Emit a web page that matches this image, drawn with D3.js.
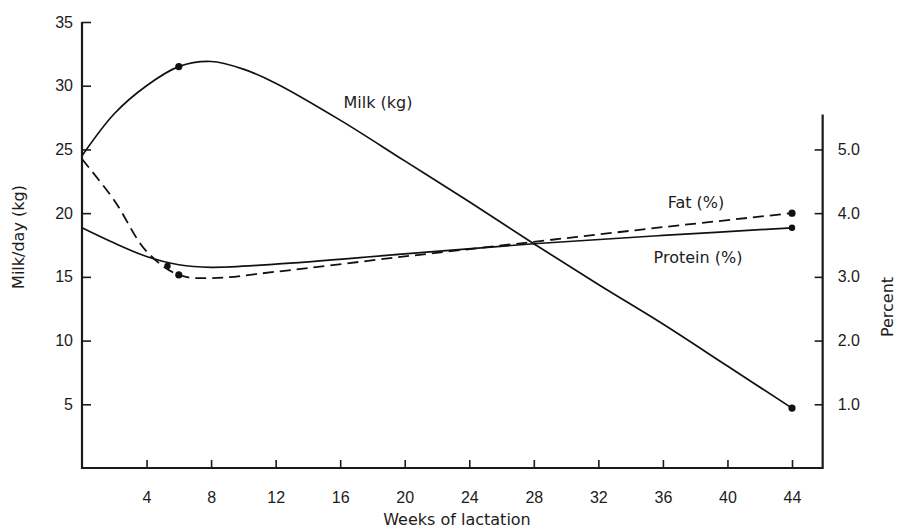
<!DOCTYPE html>
<html>
<head>
<meta charset="utf-8">
<script src="https://d3js.org/d3.v7.min.js"></script>
<style>
body { margin: 0; background: #fff; }
svg { font-family: "DejaVu Sans", "Liberation Sans", sans-serif; }
.axis text { font-size: 16px; fill: #1c1c1c; }
.axis line { stroke: #1c1c1c; stroke-width: 1.6; }
.title { font-size: 16px; fill: #1c1c1c; }
</style>
</head>
<body>
<div id="chart"></div>
<script>
// weeks of lactation and readings
const milkWeeks = [0, 2, 4, 6, 8, 10, 12, 16, 20, 24, 28, 32, 36, 40, 44];
const milkKg = [24.5, 27.8, 30.0, 31.5, 31.9, 31.3, 30.2, 27.3, 24.1, 20.9, 17.6, 14.4, 11.3, 8.0, 4.7];

const fatWeeks = [0, 2, 4, 6, 8, 12, 20, 28, 36, 44];
const fatPct = [4.85, 4.2, 3.4, 3.03, 2.98, 3.08, 3.32, 3.55, 3.78, 4.0];

const proteinWeeks = [0, 2, 4, 6, 8, 12, 20, 28, 36, 44];
const proteinPct = [3.77, 3.53, 3.32, 3.19, 3.15, 3.2, 3.36, 3.52, 3.65, 3.77];

// marked points
const milkDots = [[6, 31.5], [44, 4.7]];
const fatDots = [[6, 3.03], [44, 4.0]];
const proteinDots = [[5.3, 3.17], [44, 3.77]];

const weekTicks = [4, 8, 12, 16, 20, 24, 28, 32, 36, 40, 44];
const kgTicks = [5, 10, 15, 20, 25, 30, 35];
const pctTicks = [1, 2, 3, 4, 5];

const width = 900, height = 530;

const svg = d3.select("#chart").append("svg")
    .attr("width", width)
    .attr("height", height);

let x = d3.scaleLinear().domain([0, 44]).range([82, 792]);
let yKg = d3.scaleLinear().domain([0, 35]).range([468, 22]);
let yPct = d3.scaleLinear().domain([0, 7]).range([468, 22]);

// axes, ticks point inward
svg.append("g")
    .attr("class", "axis")
    .attr("transform", "translate(82,0)")
    .call(d3.axisLeft(yKg).tickValues(kgTicks).tickSize(-9).tickPadding(9))
    .call(g => g.select(".domain").remove());

svg.append("g")
    .attr("class", "axis")
    .attr("transform", "translate(0,468)")
    .call(d3.axisBottom(x).tickValues(weekTicks).tickSize(-8).tickPadding(24))
    .call(g => g.select(".domain").remove());

const rightX = x(45.9);
svg.append("g")
    .attr("class", "axis")
    .attr("transform", `translate(${rightX},0)`)
    .call(d3.axisRight(yPct).tickValues(pctTicks).tickSize(-8).tickPadding(15).tickFormat(d3.format(".1f")))
    .call(g => g.select(".domain").remove());

// axis lines
svg.append("path")
    .attr("d", `M${x(0)},${yKg(35)}V${yKg(0)}H${rightX}V${yPct(5.55)}`)
    .attr("fill", "none")
    .attr("stroke", "#1a1a1a")
    .attr("stroke-width", 2.2);

// series
const curve = d3.curveCatmullRom.alpha(0.5);

const lineKg = d3.line().curve(curve).x(d => x(d[0])).y(d => yKg(d[1]));
const linePct = d3.line().curve(curve).x(d => x(d[0])).y(d => yPct(d[1]));

svg.append("path")
    .datum(d3.zip(milkWeeks, milkKg))
    .attr("d", lineKg)
    .attr("fill", "none")
    .attr("stroke", "#111")
    .attr("stroke-width", 1.7);

svg.append("path")
    .datum(d3.zip(fatWeeks, fatPct))
    .attr("d", linePct)
    .attr("fill", "none")
    .attr("stroke", "#111")
    .attr("stroke-width", 1.8)
    .attr("stroke-dasharray", "11,6");

svg.append("path")
    .datum(d3.zip(proteinWeeks, proteinPct))
    .attr("d", linePct)
    .attr("fill", "none")
    .attr("stroke", "#111")
    .attr("stroke-width", 1.7);

const addDots = (pts, yScale, r) => {
    svg.append("g").selectAll("circle")
        .data(pts)
        .enter().append("circle")
        .attr("cx", d => x(d[0]))
        .attr("cy", d => yScale(d[1]))
        .attr("r", r)
        .attr("fill", "#111");
};
addDots(milkDots, yKg, 3.6);
addDots(fatDots, yPct, 3.6);
addDots(proteinDots, yPct, 3.2);

// series labels
svg.append("text").attr("class", "title")
    .attr("x", 378).attr("y", 108)
    .attr("text-anchor", "middle")
    .text("Milk (kg)");
svg.append("text").attr("class", "title")
    .attr("x", 696).attr("y", 208)
    .attr("text-anchor", "middle")
    .text("Fat (%)");
svg.append("text").attr("class", "title")
    .attr("x", 698).attr("y", 263)
    .attr("text-anchor", "middle")
    .text("Protein (%)");

// axis titles
svg.append("text").attr("class", "title")
    .attr("transform", "translate(24,237) rotate(-90)")
    .attr("text-anchor", "middle")
    .text("Milk/day (kg)");
svg.append("text").attr("class", "title")
    .attr("x", 457).attr("y", 525)
    .attr("text-anchor", "middle")
    .text("Weeks of lactation");
svg.append("text").attr("class", "title")
    .attr("transform", "translate(893,307) rotate(-90)")
    .attr("text-anchor", "middle")
    .text("Percent");
</script>
</body>
</html>
